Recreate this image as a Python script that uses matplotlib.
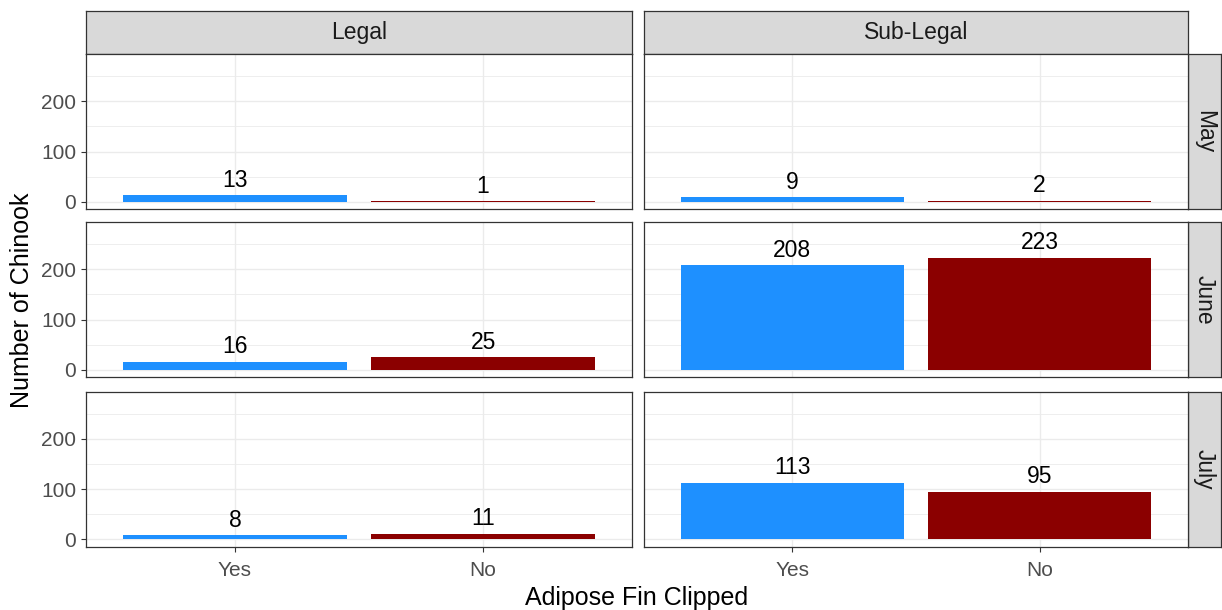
import matplotlib
matplotlib.use("Agg")
import matplotlib.pyplot as plt

plt.rcParams['font.family'] = ['Liberation Sans', 'DejaVu Sans']

size_classes = ["Legal", "Sub-Legal"]
months = ["May", "June", "July"]
clipped = ["Yes", "No"]
legal_yes = [13, 16, 8]
legal_no = [1, 25, 11]
sublegal_yes = [9, 208, 113]
sublegal_no = [2, 223, 95]
values = {"Legal": (legal_yes, legal_no), "Sub-Legal": (sublegal_yes, sublegal_no)}
bar_colors = ["#1E90FF", "#8B0000"]
y_ticks = [0, 100, 200]
y_minor = [50, 150, 250]

W, H = 1222, 610
fig = plt.figure(figsize=(W / 100, H / 100), dpi=100)

def px_axes(x0, y0, x1, y1):
    return fig.add_axes([x0 / W, (H - y1) / H, (x1 - x0) / W, (y1 - y0) / H])

col_x = [(86, 632), (644, 1188)]
row_y = [(54, 209), (222, 377), (391.5, 546.5)]
border = "#333333"

for ci, cls in enumerate(size_classes):
    x0, x1 = col_x[ci]
    s = px_axes(x0, 11, x1, 54)
    s.set_facecolor("#D9D9D9")
    s.set_xticks([]); s.set_yticks([])
    for sp in s.spines.values():
        sp.set_color(border); sp.set_linewidth(0.9)
    s.text(0.5, 0.5, cls, ha="center", va="center", fontsize=16.5, color="#1A1A1A",
           transform=s.transAxes)

for ri, m in enumerate(months):
    y0, y1 = row_y[ri]
    s = px_axes(1188, y0, 1221, y1)
    s.set_facecolor("#D9D9D9")
    s.set_xticks([]); s.set_yticks([])
    for sp in s.spines.values():
        sp.set_color(border); sp.set_linewidth(0.9)
    s.text(0.5, 0.5, m, ha="center", va="center", rotation=-90, fontsize=16.5,
           color="#1A1A1A", transform=s.transAxes)

for ci, cls in enumerate(size_classes):
    yes_vals, no_vals = values[cls]
    for ri, m in enumerate(months):
        x0, x1 = col_x[ci]
        y0, y1 = row_y[ri]
        ax = px_axes(x0, y0, x1, y1)
        ax.set_xlim(0.4, 2.6)
        ax.set_ylim(-14, 294)
        ax.set_axisbelow(True)
        ax.set_yticks(y_ticks)
        ax.set_yticks(y_minor, minor=True)
        ax.set_xticks([1, 2])
        ax.grid(True, which="major", color="#EBEBEB", linewidth=1.0)
        ax.grid(True, which="minor", axis="y", color="#EBEBEB", linewidth=0.6)
        ax.tick_params(which="minor", length=0)
        for sp in ax.spines.values():
            sp.set_color(border); sp.set_linewidth(0.9)
        vals = [yes_vals[ri], no_vals[ri]]
        xs = [1, 2]
        ax.bar(xs, vals, width=0.9, color=bar_colors, linewidth=0)
        for x, v in zip(xs, vals):
            ax.annotate(str(v), (x, v), xytext=(0, 2.5), textcoords="offset points",
                        ha="center", va="bottom", fontsize=16.5, color="#000000")
        if ci == 0:
            ax.tick_params(axis="y", which="major", length=3.5, color=border,
                           labelsize=15, labelcolor="#4D4D4D", pad=3.5)
        else:
            ax.tick_params(axis="y", which="major", length=0, labelleft=False)
        if ri == 2:
            ax.set_xticklabels(clipped)
            ax.tick_params(axis="x", which="major", length=3.5, color=border,
                           labelsize=15, labelcolor="#4D4D4D", pad=7)
        else:
            ax.tick_params(axis="x", which="major", length=0, labelbottom=False)

fig.text((86 + 1188) / 2 / W, 1 - 598 / H, "Adipose Fin Clipped", ha="center", va="center",
         fontsize=18, color="#000000")
fig.text(22 / W, 1 - (54 + 546) / 2 / H, "Number of Chinook", ha="center", va="center",
         rotation=90, fontsize=18, color="#000000")

fig.savefig("out.png", dpi=100, facecolor="white")
